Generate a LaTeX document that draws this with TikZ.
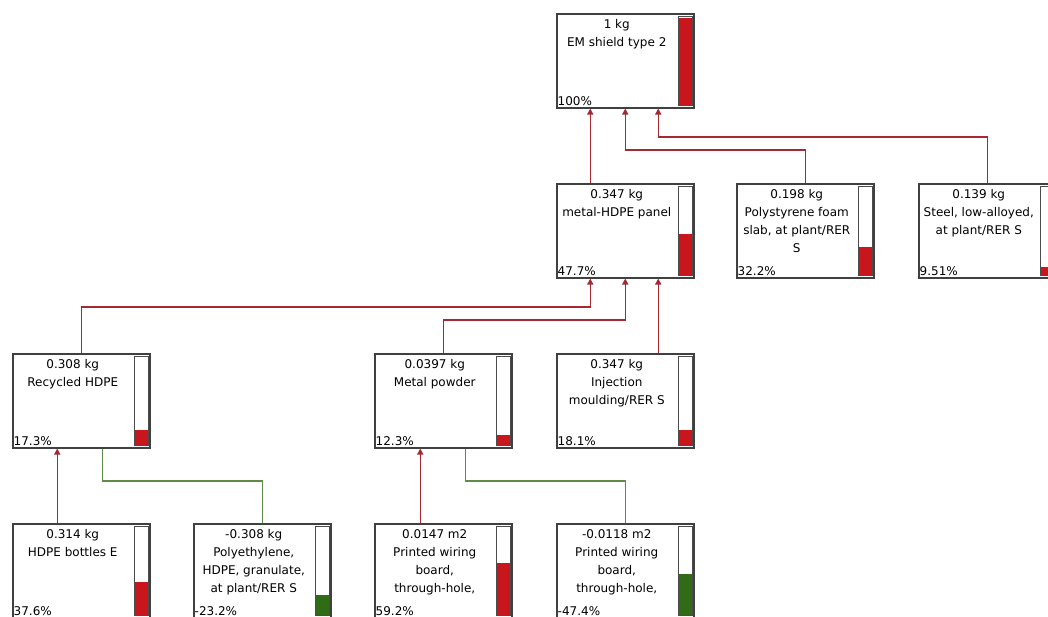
\documentclass[tikz,border=0pt]{standalone}
\usepackage{fontspec}
\setmainfont{DejaVu Sans}
\usetikzlibrary{arrows.meta, calc}

\definecolor{linered}{RGB}{165,40,50}
\definecolor{linegreen}{RGB}{95,140,70}
\definecolor{barred}{RGB}{200,22,28}
\definecolor{bargreen}{RGB}{48,108,22}

\begin{document}
\begin{tikzpicture}[
            x = 1pt, y = -1pt, % pixel grid, y runs downwards
            > = {Triangle[length=6pt, width=6pt]}, % arrow head style
            font = \fontsize{12}{18}\selectfont,
            line join = miter
        ]

        \tikzset{
            proc/.style = {
                rectangle,
                draw = black!75,
                line width = 1.5pt,
                fill = white,
                anchor = north west,
                inner sep = 0pt,
                minimum width = 137pt,
                minimum height = 94pt
            },
            title/.style = {label = {[anchor=north, xshift=-8.5pt, yshift=-6pt, align=center, inner sep=0pt]north:#1}},
            pct/.style = {label = {[anchor=south west, inner xsep=1.5pt, inner ysep=3pt]south west:#1}},
            bar/.style = {draw = black!70, line width = 1pt},
            flow/.style = {draw = linered, line width = 1.4pt, ->},
            credit/.style = {draw = linegreen, line width = 1.4pt}
        }

        \useasboundingbox (0,0) rectangle (1048,616);

        % level 0
        \node[proc, title={1 kg\\EM shield type 2}, pct=100\%] (shield) at (556,13) {};

        % level 1
        \node[proc, title={0.347 kg\\metal-HDPE panel}, pct=47.7\%] (panel) at (556,183) {};
        \node[proc, title={0.198 kg\\Polystyrene foam\\slab, at plant/RER\\S}, pct=32.2\%] (foam) at (736,183) {};
        \node[proc, title={0.139 kg\\Steel, low-alloyed,\\at plant/RER S}, pct=9.51\%] (steel) at (918,183) {};

        % level 2
        \node[proc, title={0.308 kg\\Recycled HDPE}, pct=17.3\%] (rhdpe) at (12,353) {};
        \node[proc, title={0.0397 kg\\Metal powder}, pct=12.3\%] (powder) at (374,353) {};
        \node[proc, title={0.347 kg\\Injection\\moulding/RER S}, pct=18.1\%] (moulding) at (556,353) {};

        % level 3
        \node[proc, title={0.314 kg\\HDPE bottles E}, pct=37.6\%] (bottles) at (12,523) {};
        \node[proc, title={-0.308 kg\\Polyethylene,\\HDPE, granulate,\\at plant/RER S}, pct=-23.2\%] (granulate) at (193,523) {};
        \node[proc, title={0.0147 m2\\Printed wiring\\board,\\through-hole,}, pct=59.2\%] (pwbin) at (374,523) {};
        \node[proc, title={-0.0118 m2\\Printed wiring\\board,\\through-hole,}, pct=-47.4\%] (pwbout) at (556,523) {};

        % share bars
        \foreach \n/\f/\c in {shield/1/barred, panel/0.477/barred, foam/0.322/barred,
                steel/0.0951/barred, rhdpe/0.173/barred, powder/0.123/barred,
                moulding/0.181/barred, bottles/0.376/barred, granulate/0.232/bargreen,
                pwbin/0.592/barred, pwbout/0.474/bargreen} {
            \fill[\c] ($(\n.south east)+(-16,-3)$) rectangle ($(\n.south east)+(-2,{-3-88*\f})$);
            \draw[bar] ($(\n.north east)+(-16,3)$) rectangle ($(\n.south east)+(-2,-3)$);
        }

        % into EM shield
        \draw[flow] ($(panel.north)+(-35,0)$) -- ($(shield.south)+(-35,0)$);
        \draw[flow] (foam.north) -- ++(0,-33) -| (shield.south);
        \draw[flow] (steel.north) -- ++(0,-46) -| ($(shield.south)+(33,0)$);

        % into panel
        \draw[flow] (rhdpe.north) -- ++(0,-46) -| ($(panel.south)+(-35,0)$);
        \draw[flow] (powder.north) -- ++(0,-33) -| (panel.south);
        \draw[flow] ($(moulding.north)+(33,0)$) -- ($(panel.south)+(33,0)$);

        % into recycled HDPE and metal powder
        \draw[flow] ($(bottles.north)+(-24,0)$) -- ($(rhdpe.south)+(-24,0)$);
        \draw[credit] (granulate.north) -- ++(0,-42) -| ($(rhdpe.south)+(21,0)$);
        \draw[flow] ($(pwbin.north)+(-23,0)$) -- ($(powder.south)+(-23,0)$);
        \draw[credit] (pwbout.north) -- ++(0,-42) -| ($(powder.south)+(22,0)$);

    \end{tikzpicture}
\end{document}
